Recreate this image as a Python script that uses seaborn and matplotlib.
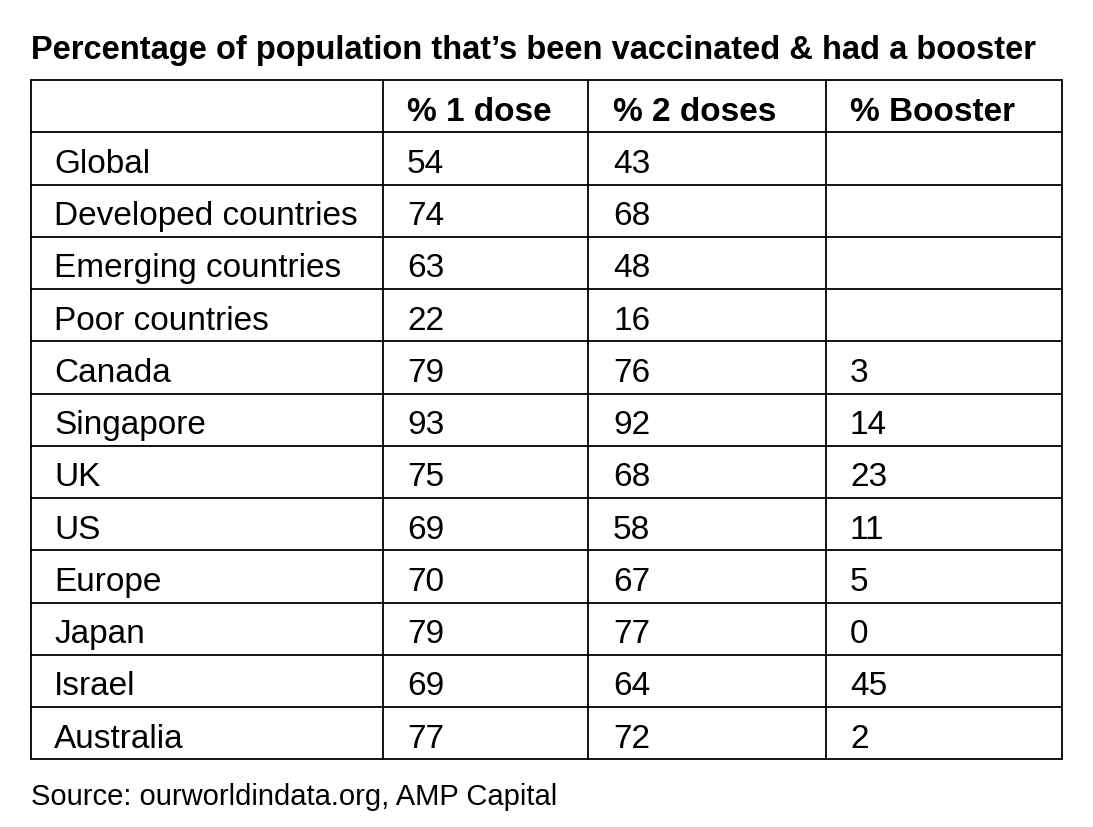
import matplotlib
matplotlib.use("Agg")
import matplotlib.pyplot as plt
import seaborn as sns

sns.set_style("white")
plt.rcParams['font.family'] = ['Liberation Sans', 'DejaVu Sans']
plt.rcParams['text.color'] = 'black'

title = "Percentage of population that\u2019s been vaccinated & had a booster"
headers = ["", "% 1 dose", "% 2 doses", "% Booster"]
regions = ["Global", "Developed countries", "Emerging countries", "Poor countries",
           "Canada", "Singapore", "UK", "US", "Europe", "Japan", "Israel", "Australia"]
dose1 = ["54", "74", "63", "22", "79", "93", "75", "69", "70", "79", "69", "77"]
dose2 = ["43", "68", "48", "16", "76", "92", "68", "58", "67", "77", "64", "72"]
booster = ["", "", "", "", "3", "14", "23", "11", "5", "0", "45", "2"]
source = "Source: ourworldindata.org, AMP Capital"

fig = plt.figure(figsize=(10.93, 8.27), dpi=100)
ax = fig.add_axes([0, 0, 1, 1])
ax.set_xlim(0, 1093)
ax.set_ylim(827, 0)
ax.axis("off")

col_x = [31, 383, 588, 826, 1062]
text_x = [54, 407, 613, 850]
top = 80
row_h = 52.25
nrows = len(regions) + 1
ys = [top + i * row_h for i in range(nrows + 1)]

for y in ys:
    ax.plot([col_x[0], col_x[-1]], [y, y], color="black", lw=1.3)
for x in col_x:
    ax.plot([x, x], [ys[0], ys[-1]], color="black", lw=1.3)

ax.text(31, 50, title, fontsize=23.5, fontweight="bold", va="center", ha="left", color="black")
for j, h in enumerate(headers):
    ax.text(text_x[j], (ys[0] + ys[1]) / 2 + 6, h, fontsize=24, fontweight="bold",
            va="center", ha="left", color="black")
cols = [regions, dose1, dose2, booster]
for i in range(len(regions)):
    yc = (ys[i + 1] + ys[i + 2]) / 2 + 6
    for j, c in enumerate(cols):
        ax.text(text_x[j], yc, c[i], fontsize=24, va="center", ha="left", color="black")

ax.text(31, 797, source, fontsize=21, va="center", ha="left", color="black")
fig.savefig("out.png", dpi=100)
